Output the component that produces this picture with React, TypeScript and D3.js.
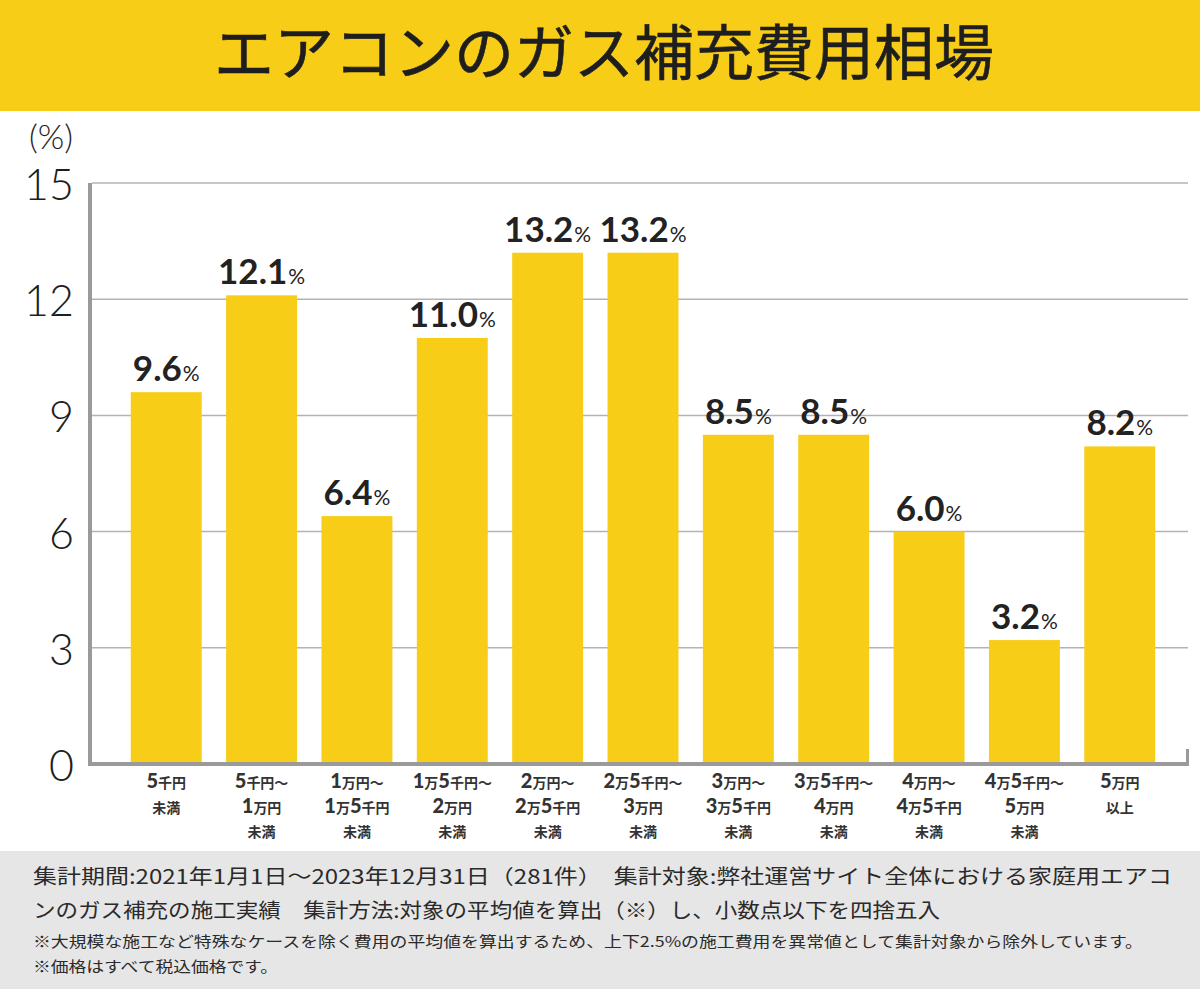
import React from "react";
import * as d3 from "d3";

const title = "エアコンのガス補充費用相場";
const categories = ["c1", "c2", "c3", "c4", "c5", "c6", "c7", "c8", "c9", "c10", "c11"];
const categoryLabels: string[][] = [
  ["5千円", "未満"],
  ["5千円～", "1万円", "未満"],
  ["1万円～", "1万5千円", "未満"],
  ["1万5千円～", "2万円", "未満"],
  ["2万円～", "2万5千円", "未満"],
  ["2万5千円～", "3万円", "未満"],
  ["3万円～", "3万5千円", "未満"],
  ["3万5千円～", "4万円", "未満"],
  ["4万円～", "4万5千円", "未満"],
  ["4万5千円～", "5万円", "未満"],
  ["5万円", "以上"],
];
const values = [9.6, 12.1, 6.4, 11.0, 13.2, 13.2, 8.5, 8.5, 6.0, 3.2, 8.2];
const yTicks = [0, 3, 6, 9, 12, 15];
const footerLines = [
  "集計期間:2021年1月1日～2023年12月31日（281件）　集計対象:弊社運営サイト全体における家庭用エアコ",
  "ンのガス補充の施工実績　集計方法:対象の平均値を算出（※）し、小数点以下を四捨五入",
];
const noteLines = [
  "※大規模な施工など特殊なケースを除く費用の平均値を算出するため、上下2.5%の施工費用を異常値として集計対象から除外しています。",
  "※価格はすべて税込価格です。",
];

const W = 1200;
const H = 989;
const YELLOW = "#F8CD17";
const AXIS = "#9a9a9a";
const CJK = "'Noto Sans CJK JP', 'Noto Sans', sans-serif";
const NUM = "Lato, 'Noto Sans', sans-serif";

function splitRuns(s: string) {
  const runs: { t: string; num: boolean }[] = [];
  const re = /(\d+|[^\d]+)/g;
  let m;
  while ((m = re.exec(s))) runs.push({ t: m[0], num: /\d/.test(m[0]) });
  return runs;
}

export default function App() {
  const x = d3
    .scaleBand<string>()
    .domain(categories)
    .range([95, 1191])
    .paddingInner(0.256)
    .paddingOuter(0.375);
  const y = d3.scaleLinear().domain([0, 15]).range([764, 183]);

  return (
    <svg width={W} height={H} style={{ display: "block", position: "absolute", left: 0, top: 0 }}>
      <rect x={0} y={0} width={W} height={H} fill="#fff" />
      {/* title banner */}
      <rect x={0} y={0} width={W} height={111} fill={YELLOW} />
      <text
        x={604}
        y={75}
        textAnchor="middle"
        fontFamily={CJK}
        fontWeight={400}
        fontSize={60}
        fill="#1e1e1e"
        stroke="#1e1e1e"
        strokeWidth={0.6}
      >
        {title}
      </text>

      {/* unit */}
      <text x={51} y={149} textAnchor="middle" fontFamily={NUM} fontWeight={300} fontSize={34} fill="#1e1e1e">
        (%)
      </text>

      {/* gridlines */}
      {yTicks
        .filter((t) => t > 0)
        .map((t) => (
          <line key={t} x1={92} x2={1188} y1={y(t)} y2={y(t)} stroke="#b3b3b3" strokeWidth={1.5} />
        ))}

      {/* y tick labels */}
      {yTicks.map((t) => (
        <text
          key={t}
          x={74}
          y={y(t) + 17}
          textAnchor="end"
          fontFamily={NUM}
          fontWeight={300}
          fontSize={43}
          fill="#1e1e1e"
        >
          {t}
        </text>
      ))}

      {/* bars */}
      {values.map((v, i) => (
        <rect
          key={i}
          x={x(categories[i])}
          y={y(v)}
          width={x.bandwidth()}
          height={y(0) - y(v)}
          fill={YELLOW}
        />
      ))}

      {/* value labels */}
      {values.map((v, i) => (
        <text
          key={i}
          x={(x(categories[i]) as number) + x.bandwidth() / 2}
          y={y(v) - 11}
          textAnchor="middle"
          fontFamily={NUM}
          fill="#222"
        >
          <tspan fontWeight={700} fontSize={35}>
            {v.toFixed(1)}
          </tspan>
          <tspan fontWeight={400} fontSize={21} dx={1}>
            %
          </tspan>
        </text>
      ))}

      {/* axes */}
      <line x1={90} x2={90} y1={183} y2={766} stroke={AXIS} strokeWidth={4} />
      <line x1={88} x2={1189} y1={764} y2={764} stroke={AXIS} strokeWidth={4} />
      <line x1={1187.5} x2={1187.5} y1={749} y2={766} stroke={AXIS} strokeWidth={3} />

      {/* x labels */}
      {categoryLabels.map((lines, i) => {
        const cx = (x(categories[i]) as number) + x.bandwidth() / 2;
        return (
          <g key={i}>
            {lines.map((ln, j) => {
              const isLast = j === lines.length - 1 && (ln === "未満" || ln === "以上");
              return (
                <text
                  key={j}
                  x={cx}
                  y={788 + j * 24.5}
                  textAnchor="middle"
                  fontFamily={CJK}
                  fontWeight={700}
                  fill="#333"
                >
                  {isLast ? (
                    <tspan fontSize={14}>{ln}</tspan>
                  ) : (
                    splitRuns(ln).map((r, k) => (
                      <tspan
                        key={k}
                        fontSize={r.num ? 20 : 14}
                        fontFamily={r.num ? NUM : CJK}
                        fontWeight={r.num ? 900 : 700}
                      >
                        {r.t}
                      </tspan>
                    ))
                  )}
                </text>
              );
            })}
          </g>
        );
      })}

      {/* footer */}
      <rect x={0} y={851} width={W} height={H - 851} fill="#e6e6e6" />
      {footerLines.map((ln, i) => (
        <text
          key={i}
          x={33}
          y={884 + i * 34}
          fontFamily={CJK}
          fontSize={20}
          fill="#2a2a2a"
          textLength={i === 0 ? 1139 : 907}
          lengthAdjust="spacingAndGlyphs"
        >
          {ln}
        </text>
      ))}
      {noteLines.map((ln, i) => (
        <text
          key={i}
          x={33}
          y={947 + i * 25}
          fontFamily={CJK}
          fontSize={15}
          fill="#2a2a2a"
          textLength={i === 0 ? 1110 : 245}
          lengthAdjust="spacingAndGlyphs"
        >
          {ln}
        </text>
      ))}
    </svg>
  );
}
